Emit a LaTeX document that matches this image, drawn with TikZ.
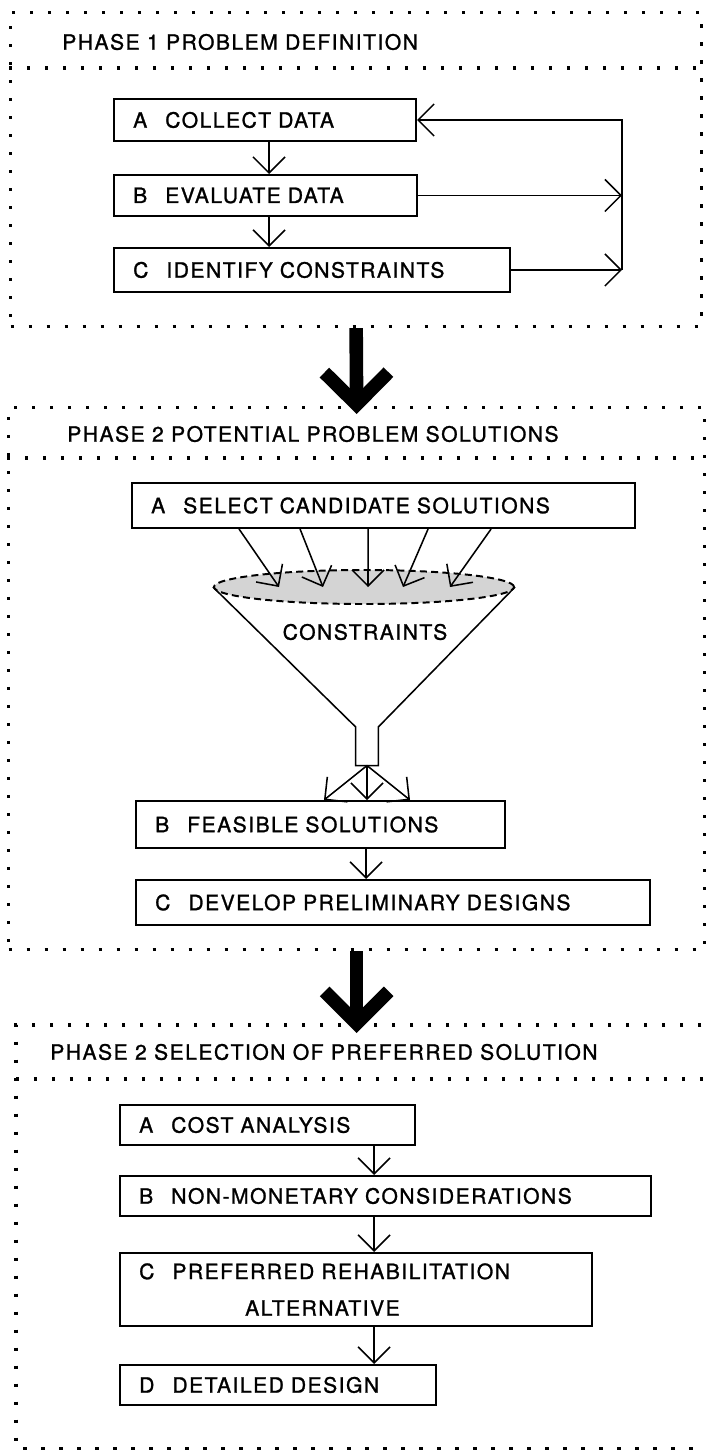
\documentclass[tikz,border=0pt]{standalone}
\usepackage{fontspec}
\setmainfont{TeX Gyre Heros}[LetterSpace=7,FakeBold=1.2]
\usetikzlibrary{arrows.meta,positioning,shapes.geometric}

\begin{document}
\begin{tikzpicture}[
  x=0.025cm,
  y=-0.025cm,
  font=\fontsize{15pt}{26pt}\selectfont,
  >={Straight Barb[length=0.4cm,width=0.8cm]},
  phaseframe/.style={
    draw,
    line width=2.2pt,
    dash pattern=on 2.4pt off 10.4pt,
    anchor=north west,
    inner sep=0pt
  },
  dotrule/.style={
    line width=2.2pt,
    dash pattern=on 2.4pt off 10.4pt
  },
  phasetitle/.style={
    anchor=west,
    inner sep=0pt
  },
  stepbox/.style={
    draw,
    line width=1.4pt,
    anchor=north west,
    align=left,
    inner xsep=0.48cm,
    inner ysep=0pt
  },
  funnelrim/.style={
    ellipse,
    draw,
    line width=1.4pt,
    dash pattern=on 5pt off 3pt,
    fill=black!17,
    inner sep=0pt
  },
  flow/.style={->,line width=1.1pt},
  bigflow/.style={
    line width=0.34cm,
    -{Straight Barb[length=0.8cm,width=1.6cm]},
    shorten >=-0.2cm
  }
]
  \useasboundingbox (0,0) rectangle (706,1453);

  % Phase 1: problem definition.
  \node[phaseframe,minimum width=17.275cm,minimum height=7.85cm] (phaseone) at (9,11) {};
  \draw[dotrule] ([yshift=-1.425cm]phaseone.north west) -- ([yshift=-1.425cm]phaseone.north east);
  \node[phasetitle] (titleone) at (62,42) {PHASE 1 PROBLEM DEFINITION};

  \node[stepbox,text width=6.59cm,minimum height=1.05cm] (collect) at (113,98) {A\hspace{0.45cm}COLLECT DATA};
  \node[stepbox,text width=6.615cm,minimum height=1.025cm,below=0.8cm of collect.south west,anchor=north west] (evaluate) {B\hspace{0.45cm}EVALUATE DATA};
  \node[stepbox,text width=8.94cm,minimum height=1.1cm,below=0.75cm of evaluate.south west,anchor=north west] (identify) {C\hspace{0.45cm}IDENTIFY CONSTRAINTS};

  \coordinate (feedback) at (622,191);
  \draw[flow] ([xshift=3.9cm]collect.south west) -- ([xshift=3.9cm]evaluate.north west);
  \draw[flow] ([xshift=3.9cm]evaluate.south west) -- ([xshift=3.9cm]identify.north west);
  \draw[flow] (evaluate.east) -- (evaluate.east -| feedback);
  \draw[flow] (identify.east) -- (identify.east -| feedback);
  \draw[flow] (identify.east -| feedback) |- (collect.east);

  % Phase 2: potential solutions, filtered through the funnel.
  \node[phaseframe,minimum width=17.4cm,minimum height=13.55cm] (phasetwo) at (7,406) {};
  \draw[dotrule] ([yshift=-1.3cm]phasetwo.north west) -- ([yshift=-1.3cm]phasetwo.north east);
  \node[phasetitle] (titletwo) at (67,434) {PHASE 2 POTENTIAL PROBLEM SOLUTIONS};

  \node[stepbox,text width=11.615cm,minimum height=1.125cm] (select) at (131,482) {A\hspace{0.45cm}SELECT CANDIDATE SOLUTIONS};

  \node[funnelrim,minimum width=7.5cm,minimum height=0.85cm] (funnel) at (364,587) {};
  \node[inner sep=0pt] (constraints) at (365,632) {CONSTRAINTS};
  \node[inner sep=0pt,minimum width=0.55cm,minimum height=0.95cm,anchor=north] (neck) at (367,727) {};
  \draw[line width=1.1pt] (funnel.west) -- (neck.north west) -- (neck.south west)
    -- (neck.south east) -- (neck.north east) -- (funnel.east);

  \draw[flow] ([xshift=2.7cm]select.south west) -- ([xshift=-2.125cm]funnel.center);
  \draw[flow] ([xshift=4.225cm]select.south west) -- ([xshift=-1.025cm]funnel.center);
  \draw[flow] ([xshift=5.925cm]select.south west) -- ([xshift=0.1cm]funnel.center);
  \draw[flow] ([xshift=7.425cm]select.south west) -- ([xshift=0.975cm]funnel.center);
  \draw[flow] ([xshift=9cm]select.south west) -- ([xshift=2.15cm]funnel.center);

  \node[stepbox,text width=8.265cm,minimum height=1.175cm] (feasible) at (135,800) {B\hspace{0.45cm}FEASIBLE SOLUTIONS};
  \node[stepbox,text width=11.89cm,minimum height=1.125cm,below=0.75cm of feasible.south west,anchor=north west] (develop) {C\hspace{0.45cm}DEVELOP PRELIMINARY DESIGNS};

  \draw[flow] (neck.south) -- ([xshift=-1.075cm]neck.south |- feasible.north);
  \draw[flow] (neck.south) -- (neck.south |- feasible.north);
  \draw[flow] (neck.south) -- ([xshift=1.075cm]neck.south |- feasible.north);
  \draw[flow] ([xshift=5.775cm]feasible.south west) -- ([xshift=5.775cm]develop.north west);

  % Phase 3: selection of the preferred solution (frame open on the right).
  \node[phaseframe,draw=none,minimum width=17.5cm,minimum height=10.5cm] (phasethree) at (16,1025) {};
  \draw[dotrule] (phasethree.north east) -- (phasethree.north west) -- (phasethree.south west) -- (phasethree.south east);
  \draw[dotrule] ([yshift=-1.35cm]phasethree.north west) -- ([yshift=-1.35cm]phasethree.north east);
  \node[phasetitle] (titlethree) at (50,1052) {PHASE 2 SELECTION OF PREFERRED SOLUTION};

  \node[stepbox,text width=6.415cm,minimum height=1cm] (cost) at (119,1104) {A\hspace{0.45cm}COST ANALYSIS};
  \node[stepbox,text width=12.315cm,minimum height=1cm,below=0.725cm of cost.south west,anchor=north west] (nonmonetary) {B\hspace{0.45cm}NON-MONETARY CONSIDERATIONS};
  \node[stepbox,text width=10.84cm,minimum height=1.825cm,below=0.875cm of nonmonetary.south west,anchor=north west] (preferred) {C\hspace{0.45cm}PREFERRED REHABILITATION\\\hspace*{2.65cm}ALTERNATIVE};
  \node[stepbox,text width=6.94cm,minimum height=1cm,below=0.925cm of preferred.south west,anchor=north west] (detailed) {D\hspace{0.45cm}DETAILED DESIGN};

  \draw[flow] ([xshift=6.375cm]cost.south west) -- ([xshift=6.375cm]nonmonetary.north west);
  \draw[flow] ([xshift=6.375cm]nonmonetary.south west) -- ([xshift=6.375cm]preferred.north west);
  \draw[flow] ([xshift=6.375cm]preferred.south west) -- ([xshift=6.375cm]detailed.north west);

  % Heavy arrows between the phases.
  \draw[bigflow] (phaseone.south) -- (phasetwo.north);
  \draw[bigflow] (phasetwo.south) -- (phasetwo.south |- phasethree.north);
\end{tikzpicture}
\end{document}
